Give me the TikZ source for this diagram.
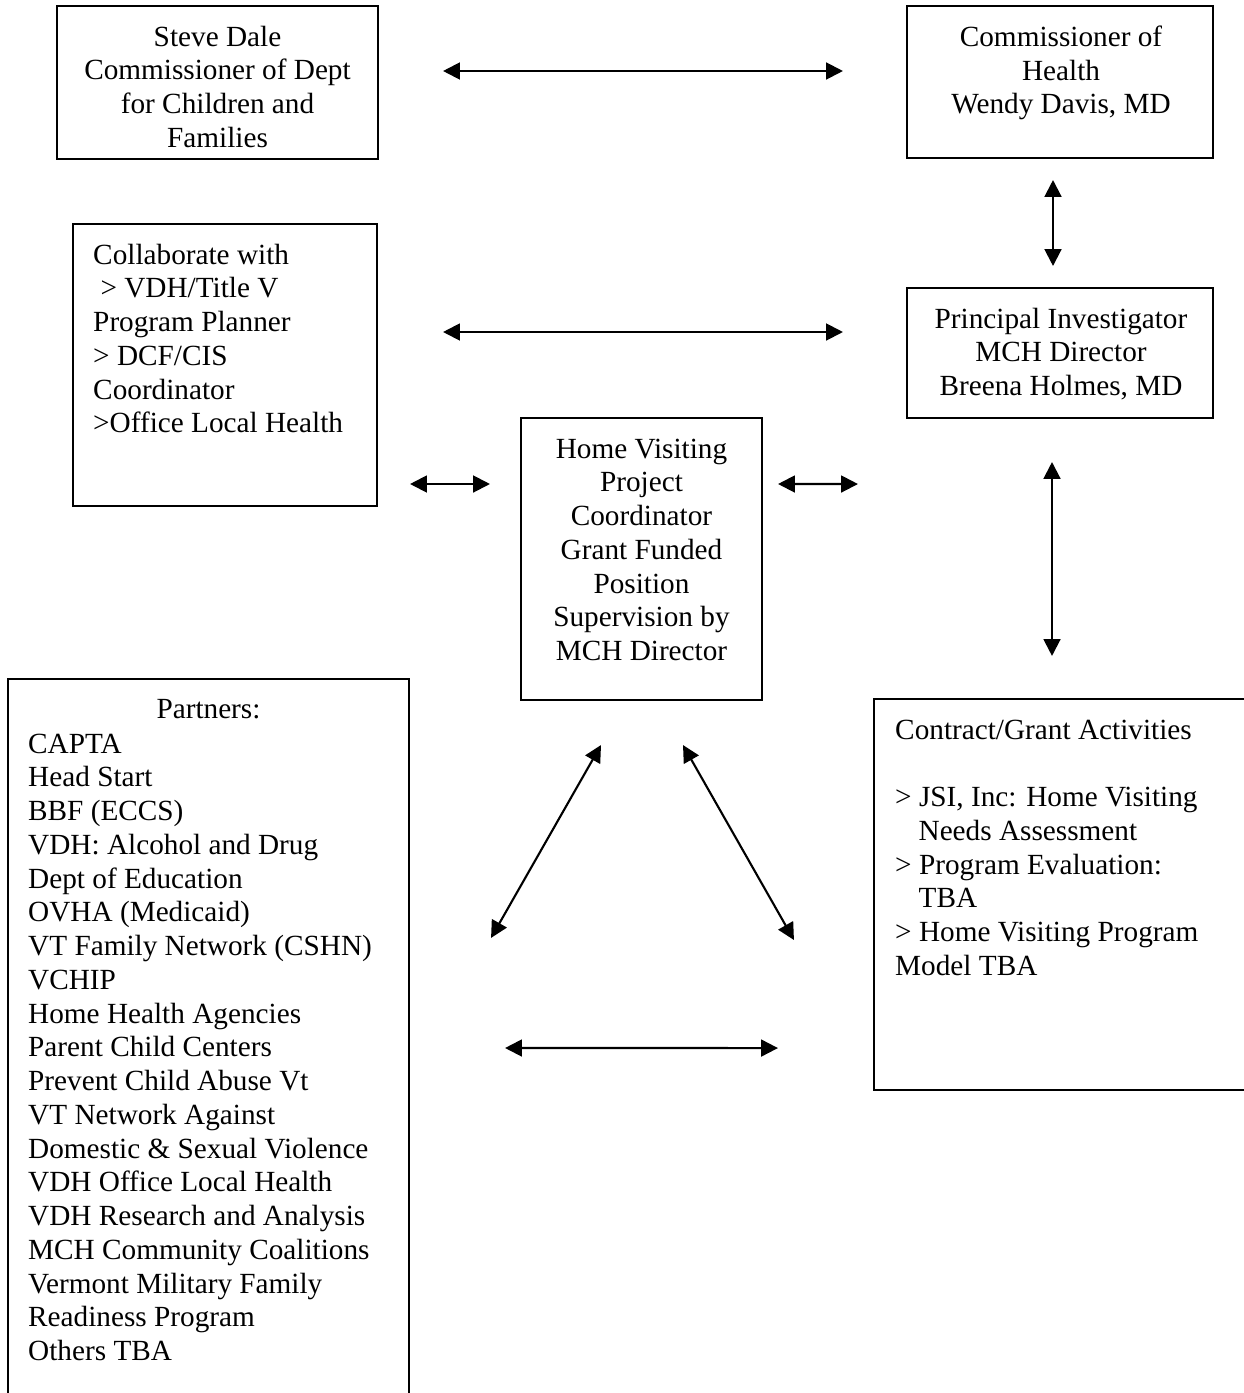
\documentclass[tikz,border=0pt]{standalone}
\usepackage{fontspec}
\setmainfont{Liberation Serif}
\usetikzlibrary{arrows.meta,calc}

\tikzset{
	box/.style={draw=black, line width=1.4pt, inner sep=0pt, outer sep=0pt},
	txt/.style={inner sep=0pt, font=\fontsize{20.8}{24}\selectfont},
	link/.style={line width=1.5pt, {Triangle[length=12pt,width=12pt]}-{Triangle[length=12pt,width=12pt]}}
}

\begin{document}
	\begin{tikzpicture}[x=0.025cm, y=-0.025cm]
		% Fix the size of the page
		\useasboundingbox (0,0) rectangle (1243,1393);
		
		% Boxes of the top row
		\node[box, minimum width=8.025cm, minimum height=3.825cm] (dale) at (217.5, 82.5) {};
		\node[box, minimum width=7.65cm, minimum height=3.8cm] (comm) at (1060, 82) {};
		
		% Boxes of the middle rows
		\node[box, minimum width=7.6cm, minimum height=7.05cm] (collab) at (225, 365) {};
		\node[box, minimum width=7.65cm, minimum height=3.25cm] (pi) at (1060, 353) {};
		\node[box, minimum width=6.025cm, minimum height=7.05cm] (hv) at (641.5, 559) {};
		
		% Boxes of the bottom row (they run off the page)
		\node[box, minimum width=10.025cm, minimum height=18.025cm] (partners) at (208.5, 1039.5) {};
		\node[box, minimum width=9.4cm, minimum height=9.775cm] (contract) at (1062, 894.5) {};
		
		% Text
		\begin{scope}
			\node[txt, anchor=north, align=center] (daletext) at ($(dale.north)+(0,19.5)$) {Steve Dale\\Commissioner of Dept\\for Children and\\Families};
			\node[txt, anchor=north, align=center] (commtext) at ($(comm.north)+(1,19.5)$) {Commissioner of\\Health\\Wendy Davis, MD};
			\node[txt, anchor=north west, align=left] (collabtext) at ($(collab.north west)+(20,19.5)$) {Collaborate with\\\hspace*{0.25em}> VDH/Title V\\Program Planner\\> DCF/CIS\\Coordinator\\>Office Local Health};
			\node[txt, anchor=north, align=center] (pitext) at ($(pi.north)+(1,19.5)$) {Principal Investigator\\MCH Director\\Breena Holmes, MD};
			\node[txt, anchor=north, align=center] (hvtext) at ($(hv.north)+(0,20.5)$) {Home Visiting\\Project\\Coordinator\\Grant Funded\\Position\\Supervision by\\MCH Director};
			\node[txt, anchor=north] (partnerstitle) at ($(partners.north)+(0,20.5)$) {Partners:};
			\node[txt, anchor=north west, align=left] (partnerstext) at ($(partners.north west)+(20,54.5)$) {CAPTA\\Head Start\\BBF (ECCS)\\VDH: Alcohol and Drug\\Dept of Education\\OVHA (Medicaid)\\VT Family Network (CSHN)\\VCHIP\\Home Health Agencies\\Parent Child Centers\\Prevent Child Abuse Vt\\VT Network Against\\Domestic \& Sexual Violence\\VDH Office Local Health\\VDH Research and Analysis\\MCH Community Coalitions\\Vermont Military Family\\Readiness Program\\Others TBA};
			\node[txt, anchor=north west, align=left] (contracttext) at ($(contract.north west)+(21,20.5)$) {Contract/Grant Activities\\[24pt]> JSI, Inc: Home Visiting\\\hspace*{0.8em}Needs Assessment\\> Program Evaluation:\\\hspace*{0.8em}TBA\\> Home Visiting Program\\Model TBA};
		\end{scope}
		
		% Arrows between the boxes
		\draw[link] ($(dale.east)+(65,-11.5)$) -- ($(comm.west)+(-64,-11)$);
		\draw[link] ($(comm.south)+(-7,22)$) -- ($(pi.north)+(-7,-22)$);
		\draw[link] ($(collab.east)+(66,-33)$) -- ($(pi.west)+(-64,-21)$);
		\draw[link] ($(collab.east)+(33,119)$) -- ($(hv.west)+(-31,-75)$);
		\draw[link] ($(hv.east)+(16,-75)$) -- ($(pi.south west)+(-49,66)$);
		\draw[link] ($(pi.south)+(-8,44)$) -- ($(contract.north)+(-10,-43)$);
		\draw[link] ($(hv.south)+(-40.5,45)$) -- ($(partners.north east)+(82,259)$);
		\draw[link] ($(hv.south)+(41.5,45)$) -- ($(contract.west)+(-80,45.5)$);
		\draw[link] ($(partners.east)+(96,8.5)$) -- ($(contract.south west)+(-96,-42)$);
	\end{tikzpicture}
\end{document}
